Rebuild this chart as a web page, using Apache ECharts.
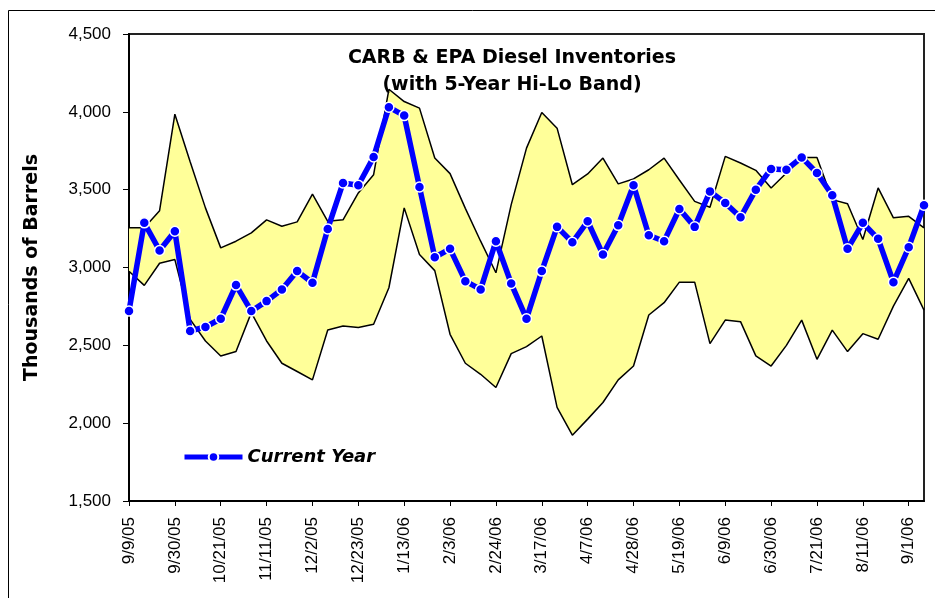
<!DOCTYPE html>
<html>
<head>
<meta charset="utf-8">
<script src="https://cdn.jsdelivr.net/npm/echarts@6/dist/echarts.min.js"></script>
<style>
  html, body { margin: 0; padding: 0; background: #fff; }
  #chart { width: 935px; height: 598px; }
</style>
</head>
<body>
<div id="chart"></div>
<script>
// weekly dates, 9/9/05 .. 9/8/06
const weeks = [
  '9/9/05', '9/16/05', '9/23/05', '9/30/05', '10/7/05', '10/14/05', '10/21/05', '10/28/05',
  '11/4/05', '11/11/05', '11/18/05', '11/25/05', '12/2/05', '12/9/05', '12/16/05', '12/23/05',
  '12/30/05', '1/6/06', '1/13/06', '1/20/06', '1/27/06', '2/3/06', '2/10/06', '2/17/06',
  '2/24/06', '3/3/06', '3/10/06', '3/17/06', '3/24/06', '3/31/06', '4/7/06', '4/14/06',
  '4/21/06', '4/28/06', '5/5/06', '5/12/06', '5/19/06', '5/26/06', '6/2/06', '6/9/06',
  '6/16/06', '6/23/06', '6/30/06', '7/7/06', '7/14/06', '7/21/06', '7/28/06', '8/4/06',
  '8/11/06', '8/18/06', '8/25/06', '9/1/06', '9/8/06'
];

const currentYear = [
  2720, 3287, 3109, 3233, 2592, 2618, 2671, 2887, 2720, 2784, 2859, 2977, 2902, 3248,
  3543, 3528, 3710, 4030, 3976, 3517, 3066, 3120, 2912, 2859, 3169, 2897, 2671, 2977,
  3261, 3162, 3297, 3083, 3271, 3528, 3207, 3169, 3376, 3261, 3489, 3415, 3323, 3500,
  3633, 3628, 3707, 3607, 3464, 3120, 3287, 3184, 2906, 3130, 3400
];

// 5-year high
const bandHi = [
  3255, 3255, 3365, 3985, 3680, 3383, 3126, 3169, 3222, 3306, 3265, 3293, 3472, 3297,
  3306, 3479, 3596, 4145, 4066, 4024, 3703, 3603, 3380, 3169, 2966, 3404, 3767, 3996,
  3895, 3532, 3601, 3703, 3537, 3569, 3628, 3703, 3562, 3425, 3387, 3714, 3671, 3624,
  3511, 3607, 3707, 3707, 3436, 3410, 3180, 3511, 3319, 3329, 3255
];

// 5-year low
const bandLo = [
  2976, 2885, 3027, 3051, 2667, 2528, 2432, 2460, 2710, 2528, 2385, 2332, 2278, 2598,
  2624, 2614, 2635, 2870, 3383, 3083, 2980, 2571, 2385, 2314, 2229, 2447, 2492, 2560,
  2101, 1923, 2026, 2133, 2278, 2367, 2695, 2774, 2906, 2906, 2511, 2662, 2652, 2432,
  2367, 2500, 2662, 2410, 2598, 2460, 2575, 2539, 2752, 2930, 2726
];

const yTicks = { min: 1500, max: 4500, step: 500 };

const chart = echarts.init(document.getElementById('chart'));
const bandSpan = bandHi.map((v, i) => v - bandLo[i]);

const option = {
  backgroundColor: '#ffffff',
  animation: false,
  grid: { left: 129, top: 34, right: 11, bottom: 97, show: true, borderColor: '#222', borderWidth: 2 },
  graphic: [
    {
      type: 'rect', shape: { x: 8.5, y: 10.5, width: 940, height: 600 },
      style: { fill: 'none', stroke: '#000', lineWidth: 1 }, silent: true
    },
    {
      type: 'text', x: 512, y: 45,
      style: {
        text: 'CARB & EPA Diesel Inventories\n(with 5-Year Hi-Lo Band)',
        align: 'center', verticalAlign: 'top', lineHeight: 27,
        font: 'bold 19px "DejaVu Sans", sans-serif', fill: '#000'
      },
      z: 100
    }
  ],
  legend: {
    left: 177, top: 443,
    data: ['Current Year'],
    itemWidth: 58, itemHeight: 12,
    lineStyle: { width: 5 },
    textStyle: { fontFamily: 'DejaVu Sans', fontSize: 18, fontWeight: 'bold', fontStyle: 'italic', color: '#000' }
  },
  xAxis: {
    type: 'category',
    data: weeks,
    boundaryGap: false,
    axisLine: { lineStyle: { color: '#000', width: 2 } },
    axisTick: { interval: 2, length: 5, lineStyle: { color: '#000' } },
    axisLabel: {
      interval: 2, rotate: 90, margin: 16,
      fontFamily: 'Liberation Sans', fontSize: 17, color: '#000'
    },
    splitLine: { show: false }
  },
  yAxis: {
    type: 'value',
    min: yTicks.min, max: yTicks.max, interval: yTicks.step,
    name: 'Thousands of Barrels',
    nameLocation: 'middle', nameGap: 87,
    nameTextStyle: { fontFamily: 'DejaVu Sans', fontSize: 19, fontWeight: 'bold', color: '#000' },
    axisLine: { show: true, lineStyle: { color: '#000', width: 2 } },
    axisTick: { show: true, length: 6, lineStyle: { color: '#000' } },
    axisLabel: {
      margin: 18, fontFamily: 'Liberation Sans', fontSize: 17, color: '#000',
      formatter: v => v.toLocaleString('en-US')
    },
    splitLine: { show: false }
  },
  series: [
    {
      name: 'Lo', type: 'line', data: bandLo, stack: 'band',
      symbol: 'none', lineStyle: { color: '#000', width: 1.5 }, z: 3
    },
    {
      name: 'Band', type: 'line', data: bandSpan, stack: 'band',
      symbol: 'none', lineStyle: { opacity: 0 },
      areaStyle: { color: '#FFFF99', opacity: 1 }, z: 1
    },
    {
      name: 'Hi', type: 'line', data: bandHi,
      symbol: 'none', lineStyle: { color: '#000', width: 1.5 }, z: 3
    },
    {
      name: 'Current Year', type: 'line', data: currentYear,
      symbol: 'circle', symbolSize: 10,
      lineStyle: { color: '#0000FF', width: 5.5 },
      itemStyle: { color: '#0000FF', borderColor: '#ffffff', borderWidth: 1.5 },
      z: 5
    }
  ]
};

chart.setOption(option);
</script>
</body>
</html>
